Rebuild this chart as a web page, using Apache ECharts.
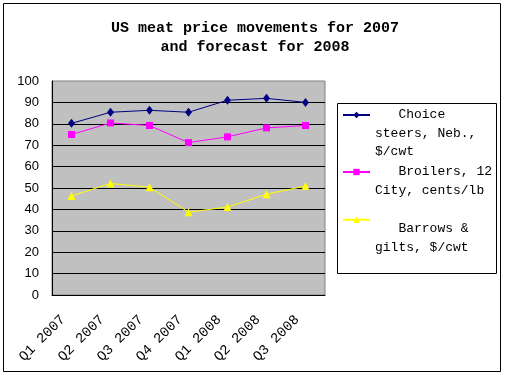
<!DOCTYPE html>
<html>
<head>
<meta charset="utf-8">
<script src="https://cdn.jsdelivr.net/npm/echarts@6/dist/echarts.min.js"></script>
<style>
  html, body { margin: 0; padding: 0; background: #fff; }
  #chart { width: 506px; height: 377px; }
</style>
</head>
<body>
<div id="chart"></div>
<script>
const quarters = ['Q1 2007', 'Q2 2007', 'Q3 2007', 'Q4 2007', 'Q1 2008', 'Q2 2008', 'Q3 2008'];
const steers = [80.2, 85.4, 86.3, 85.4, 91.0, 91.9, 90.0];
const broilers = [75.0, 80.4, 79.2, 71.2, 73.9, 78.1, 79.2];
const barrows = [46.3, 52.1, 50.4, 38.7, 41.1, 47.1, 50.9];
const seriesNames = ['Choice steers, Neb., $/cwt', 'Broilers, 12 City, cents/lb', 'Barrows & gilts, $/cwt'];
// two leading blank lines keep the first text line level with the legend icon
const legendLabels = ['   Choice\nsteers, Neb.,\n$/cwt', '   Broilers, 12\nCity, cents/lb\n ', '   Barrows &\ngilts, $/cwt'];

const chart = echarts.init(document.getElementById('chart'));

const mono = '"Liberation Mono", "DejaVu Sans Mono", monospace';

const option = {
  animation: false,
  backgroundColor: '#fff',
  title: {
    text: 'US meat price movements for 2007\nand forecast for 2008',
    left: 250,
    top: 14,
    textAlign: 'center',
    textStyle: { fontFamily: mono, fontWeight: 'bold', fontSize: 15, lineHeight: 19, color: '#000' }
  },
  graphic: [
    { type: 'rect', shape: { x: 3.5, y: 3.5, width: 497, height: 368 },
      style: { fill: null, stroke: '#000', lineWidth: 1 }, silent: true },
    { type: 'rect', shape: { x: 337.5, y: 103.5, width: 159, height: 170 },
      style: { fill: null, stroke: '#000', lineWidth: 1 }, silent: true }
  ],
  legend: {
    orient: 'vertical',
    left: 342,
    top: 68.75,
    padding: 0,
    itemGap: -35.5,
    itemWidth: 27,
    itemHeight: 8,
    data: seriesNames,
    formatter: name => ' \n \n' + legendLabels[seriesNames.indexOf(name)],
    textStyle: { fontFamily: mono, fontSize: 13, lineHeight: 18.5, color: '#000' }
  },
  grid: {
    left: 52, top: 81, width: 273, height: 214,
    show: true, backgroundColor: '#C0C0C0', borderColor: '#808080', borderWidth: 1
  },
  xAxis: {
    type: 'category',
    data: quarters,
    boundaryGap: true,
    axisLine: { lineStyle: { color: '#000', width: 1 } },
    axisTick: { inside: true, length: 5, interval: 0, lineStyle: { color: '#000' } },
    axisLabel: {
      rotate: 45, interval: 0, margin: 14,
      fontFamily: mono, fontSize: 14, color: '#000',
      padding: [0, 12, 0, 0]
    }
  },
  yAxis: {
    type: 'value',
    min: 0, max: 100, interval: 10,
    axisLine: { show: true, lineStyle: { color: '#000', width: 1 } },
    axisTick: { show: false },
    axisLabel: { margin: 13, fontFamily: '"Liberation Sans", Arial, sans-serif', fontSize: 13, color: '#000' },
    splitLine: { show: true, showMaxLine: false, lineStyle: { color: '#000', width: 1 } }
  },
  series: [
    {
      name: seriesNames[0], type: 'line', data: steers,
      symbol: 'diamond', symbolSize: [7, 9],
      lineStyle: { color: '#000080', width: 1 },
      itemStyle: { color: '#000080' }
    },
    {
      name: seriesNames[1], type: 'line', data: broilers,
      symbol: 'rect', symbolSize: 7,
      lineStyle: { color: '#FF00FF', width: 1 },
      itemStyle: { color: '#FF00FF' }
    },
    {
      name: seriesNames[2], type: 'line', data: barrows,
      symbol: 'triangle', symbolSize: 8,
      lineStyle: { color: '#FFFF00', width: 1 },
      itemStyle: { color: '#FFFF00' }
    }
  ]
};

chart.setOption(option);
</script>
</body>
</html>
